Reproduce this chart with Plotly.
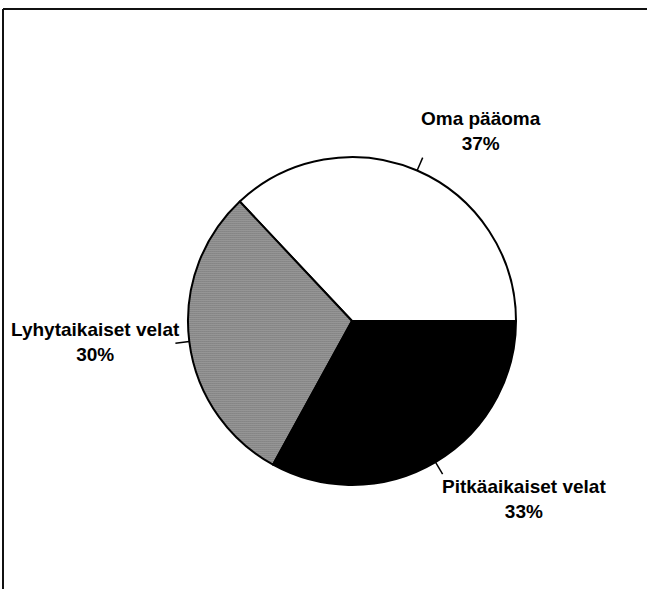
import math

import plotly.graph_objects as go

W, H = 647, 589

labels = ["Oma pääoma", "Lyhytaikaiset velat", "Pitkäaikaiset velat"]
values = [37, 30, 33]
fill_colors = ["#ffffff", "#cfcfcf", "#000000"]

# pie geometry in pixels (margins are zero, so paper == page)
cx, cy, r = 352, 321, 164
# label block centres in pixels
label_pos = [(481, 131), (95, 342), (524, 499)]

total = sum(values)
# first slice should run counterclockwise from 3 o'clock; plotly measures
# rotation clockwise from 12 o'clock at the clockwise end of that slice
rotation = 90 - 360 * values[0] / total

fig = go.Figure()
fig.add_trace(
    go.Pie(
        labels=labels,
        values=values,
        sort=False,
        direction="counterclockwise",
        rotation=rotation,
        textinfo="none",
        hoverinfo="label+percent",
        marker=dict(
            colors=fill_colors,
            line=dict(color="#000000", width=2),
            pattern=dict(
                shape=["", ".", ""],
                fgcolor="#505050",
                bgcolor=fill_colors,
                size=2,
                solidity=0.6,
            ),
        ),
        domain=dict(
            x=[(cx - r) / W, (cx + r) / W],
            y=[1 - (cy + r) / H, 1 - (cy - r) / H],
        ),
        showlegend=False,
    )
)

# leader lines at the middle angle of each slice, plus the labels
start = 0.0
shapes = []
annotations = []
for lab, val, (lx, ly) in zip(labels, values, label_pos):
    mid = math.radians((start + val / 2) / total * 360)
    start += val
    x0 = cx + r * math.cos(mid)
    y0 = cy - r * math.sin(mid)
    x1 = cx + (r + 14) * math.cos(mid)
    y1 = cy - (r + 14) * math.sin(mid)
    shapes.append(
        dict(
            type="line", xref="paper", yref="paper",
            x0=x0 / W, y0=1 - y0 / H, x1=x1 / W, y1=1 - y1 / H,
            line=dict(color="#000000", width=1.5),
        )
    )
    pct = round(val / total * 100)
    annotations.append(
        dict(
            text=f"{lab}<br>{pct}%",
            x=lx / W, y=1 - ly / H,
            xref="paper", yref="paper",
            xanchor="center", yanchor="middle",
            showarrow=False,
            font=dict(
                family="Liberation Sans, Arial, sans-serif",
                size=19,
                color="#000000",
                weight="bold",
            ),
        )
    )

# frame: only top and left edges are visible in the scan
shapes.append(dict(type="line", xref="paper", yref="paper",
                   x0=3 / W, y0=1 - 9 / H, x1=1.01, y1=1 - 9 / H,
                   line=dict(color="#111111", width=2)))
shapes.append(dict(type="line", xref="paper", yref="paper",
                   x0=3 / W, y0=1 - 9 / H, x1=3 / W, y1=-0.01,
                   line=dict(color="#111111", width=2)))

fig.update_layout(
    width=W,
    height=H,
    margin=dict(l=0, r=0, t=0, b=0),
    paper_bgcolor="#ffffff",
    plot_bgcolor="#ffffff",
    shapes=shapes,
    annotations=annotations,
)

fig.write_html(
    "out.html",
    config={"displayModeBar": False, "staticPlot": True},
    post_script="document.body.style.margin='0';document.body.style.overflow='hidden';",
)
